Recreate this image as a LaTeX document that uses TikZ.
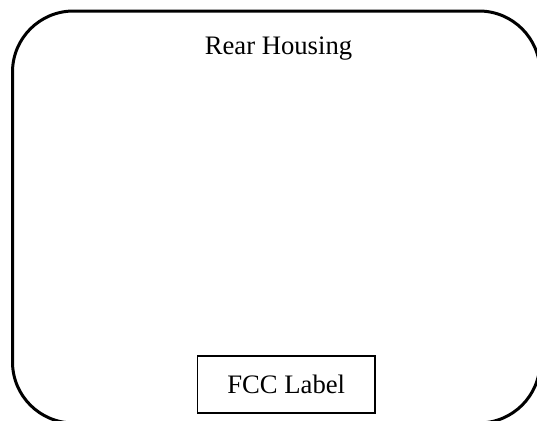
\documentclass[tikz,border=0pt]{standalone}
\usepackage{fontspec}
\setmainfont{Liberation Serif}
\begin{document}
\begin{tikzpicture}[x=0.75pt,y=-0.75pt,
  housingbox/.style={draw=black,line width=2.25pt,rounded corners=45.75pt,
    minimum width=527.5*0.75pt,minimum height=412*0.75pt,inner sep=0pt},
  labelbox/.style={draw=black,line width=0.9pt,minimum width=177.5*0.75pt,
    minimum height=57*0.75pt,inner sep=0pt,font=\fontsize{20pt}{24pt}\selectfont},
  title/.style={anchor=base,inner sep=0pt,font=\fontsize{20pt}{24pt}\selectfont}]
\useasboundingbox (0,0) rectangle (537,421);
\clip (0,0) rectangle (537,421);
\node[housingbox] (housing) at (276.25,217) {};
\node[title] (rear) at (278.5,55) {Rear Housing};
\node[labelbox] (fcc) at (286.25,384.5) {FCC Label};
\end{tikzpicture}
\end{document}
